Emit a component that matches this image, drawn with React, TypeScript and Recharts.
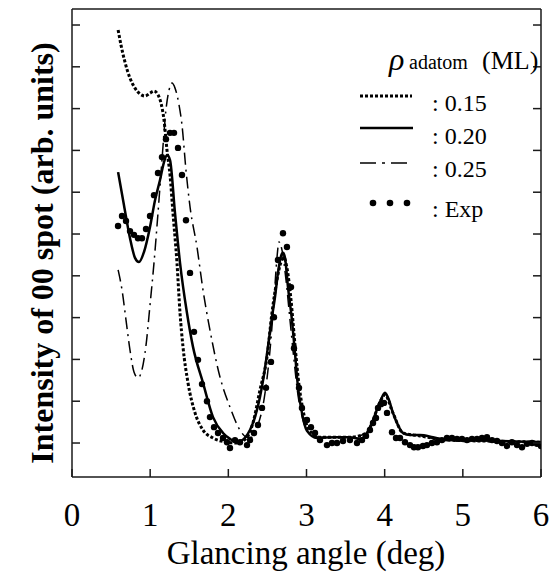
import React from 'react';
import { ComposedChart, Line, Scatter, XAxis, YAxis, Legend } from 'recharts';

const FONT = '"Liberation Serif", "Times New Roman", serif';

const xTicks = [0, 1, 2, 3, 4, 5, 6];
const yTicks = [0, 1, 2, 3, 4, 5, 6, 7, 8, 9, 10];
const xTitle = 'Glancing angle (deg)';
const yTitle = 'Intensity of 00 spot (arb. units)';
const legendLabels = [': 0.15', ': 0.20', ': 0.25', ': Exp'];

const sim015: [number, number][] = [
  [0.59, 9.88], [0.627, 9.52], [0.678, 9.11], [0.742, 8.73], [0.806, 8.49], [0.87, 8.35],
  [0.934, 8.3], [0.998, 8.37], [1.049, 8.42], [1.1, 8.33], [1.139, 8.13], [1.177, 7.73],
  [1.215, 7.01], [1.254, 6.41], [1.292, 5.5], [1.343, 4.31], [1.382, 3.11], [1.42, 2.3],
  [1.484, 1.44], [1.574, 0.72], [1.676, 0.31], [1.804, 0.12], [1.983, 0.02], [2.111, 0.0],
  [2.239, 0.14], [2.315, 0.48], [2.405, 1.27], [2.495, 2.06], [2.558, 3.11], [2.622, 3.9],
  [2.674, 4.33], [2.712, 4.43], [2.75, 4.19], [2.802, 3.42], [2.853, 2.34], [2.904, 1.39],
  [2.955, 0.79], [3.032, 0.31], [3.173, 0.14], [3.556, 0.14], [3.774, 0.24], [3.851, 0.55],
  [3.94, 0.98], [4.004, 1.15], [4.106, 0.72], [4.234, 0.24], [4.452, 0.17], [4.797, 0.07],
  [5.5, 0.04], [6.0, 0.02],
];

const sim020: [number, number][] = [
  [0.59, 6.48], [0.665, 5.69], [0.742, 4.9], [0.806, 4.43], [0.857, 4.33], [0.921, 4.57],
  [0.998, 5.17], [1.062, 5.81], [1.126, 6.29], [1.177, 6.72], [1.215, 6.89], [1.254, 6.77],
  [1.318, 5.5], [1.382, 4.31], [1.471, 3.11], [1.548, 2.3], [1.676, 1.44], [1.804, 0.62],
  [1.932, 0.24], [2.021, 0.1], [2.111, 0.02], [2.2, 0.1], [2.277, 0.31], [2.341, 0.62],
  [2.405, 1.1], [2.456, 1.63], [2.507, 2.3], [2.558, 3.01], [2.597, 3.49], [2.635, 4.07],
  [2.674, 4.47], [2.699, 4.55], [2.725, 4.43], [2.763, 3.73], [2.814, 2.94], [2.853, 2.15],
  [2.891, 1.34], [2.942, 0.72], [3.006, 0.29], [3.134, 0.12], [3.364, 0.14], [3.556, 0.14],
  [3.684, 0.1], [3.774, 0.24], [3.851, 0.55], [3.94, 0.98], [4.004, 1.2], [4.055, 1.03],
  [4.106, 0.72], [4.17, 0.43], [4.234, 0.24], [4.324, 0.19], [4.452, 0.19], [4.618, 0.14],
  [4.797, 0.07], [5.091, 0.07], [5.475, 0.05], [6.0, 0.02],
];

const sim025: [number, number][] = [
  [0.59, 4.14], [0.64, 3.66], [0.691, 2.94], [0.742, 2.22], [0.793, 1.7], [0.844, 1.56],
  [0.895, 1.75], [0.947, 2.34], [0.998, 3.3], [1.049, 4.31], [1.1, 5.5], [1.151, 6.77],
  [1.202, 7.97], [1.241, 8.44], [1.279, 8.61], [1.318, 8.49], [1.369, 8.09], [1.407, 7.61],
  [1.458, 6.53], [1.51, 5.65], [1.599, 4.69], [1.676, 3.66], [1.765, 2.7], [1.893, 1.58],
  [2.021, 0.86], [2.149, 0.31], [2.239, 0.14], [2.303, 0.14], [2.379, 0.43], [2.456, 1.03],
  [2.533, 2.22], [2.584, 3.42], [2.622, 4.43], [2.648, 4.81], [2.686, 4.62], [2.738, 3.9],
  [2.789, 2.94], [2.84, 1.99], [2.891, 1.15], [2.955, 0.55], [3.032, 0.26], [3.173, 0.14],
  [3.556, 0.14], [3.774, 0.24], [3.851, 0.55], [3.94, 0.98], [4.004, 1.17], [4.106, 0.72],
  [4.234, 0.24], [4.452, 0.17], [4.797, 0.07], [5.5, 0.04], [6.0, 0.02],
];

const expData: [number, number][] = [
  [0.589, 5.19], [0.64, 5.43], [0.691, 5.31], [0.742, 5.07], [0.793, 4.98], [0.844, 4.9],
  [0.895, 4.9], [0.947, 5.12], [0.998, 5.43], [1.049, 5.93], [1.1, 6.46], [1.151, 6.84],
  [1.202, 7.27], [1.254, 7.42], [1.305, 7.42], [1.356, 7.06], [1.407, 6.41], [1.458, 5.33],
  [1.51, 4.07], [1.561, 2.66], [1.612, 1.99], [1.663, 1.41], [1.727, 1.0], [1.765, 0.62],
  [1.817, 0.38], [1.868, 0.24], [1.932, 0.12], [1.983, 0.02], [2.021, -0.12], [2.085, 0.07],
  [2.149, 0.02], [2.239, -0.05], [2.277, 0.07], [2.328, 0.24], [2.379, 0.43], [2.431, 0.84],
  [2.482, 1.32], [2.546, 1.94], [2.584, 3.01], [2.635, 4.38], [2.699, 5.02], [2.75, 4.69],
  [2.802, 3.73], [2.84, 2.27], [2.904, 1.32], [2.942, 0.84], [3.006, 0.55], [3.057, 0.38],
  [3.109, 0.24], [3.173, 0.07], [3.262, -0.05], [3.326, 0.0], [3.39, 0.0], [3.467, 0.05],
  [3.556, 0.07], [3.646, 0.0], [3.71, 0.07], [3.761, 0.17], [3.812, 0.31], [3.851, 0.48],
  [3.889, 0.6], [3.915, 0.84], [3.953, 0.93], [3.991, 0.96], [4.03, 0.72], [4.094, 0.26],
  [4.145, 0.12], [4.196, 0.12], [4.26, 0.02], [4.324, -0.05], [4.375, -0.1], [4.426, -0.1],
  [4.49, -0.07], [4.541, -0.05], [4.605, 0.0], [4.669, 0.02], [4.733, 0.07], [4.797, 0.12],
  [4.861, 0.12], [4.925, 0.1], [4.989, 0.1], [5.053, 0.07], [5.117, 0.1], [5.181, 0.1],
  [5.245, 0.12], [5.309, 0.14], [5.373, 0.07], [5.437, 0.05], [5.501, 0.0], [5.565, -0.07],
  [5.628, 0.02], [5.693, -0.05], [5.757, -0.1], [5.821, -0.02], [5.885, 0.0], [5.949, -0.02],
  [6.0, -0.07],
];

const toPts = (arr: [number, number][]) => arr.map(([x, y]) => ({ x, y }));

const AX = '#1a1a1a';

const XTick = (props: any) => {
  const { x, y, payload } = props;
  return (
    <g>
      <line x1={x} x2={x} y1={y} y2={y - 8} stroke={AX} strokeWidth={1.5} />
      <text x={x} y={y + 49} textAnchor="middle" fontSize={33} fontFamily={FONT} fill="#000">
        {payload.value}
      </text>
    </g>
  );
};

const LeftTick = (props: any) => {
  const { x, y } = props;
  return <line x1={x} x2={x + 8} y1={y} y2={y} stroke={AX} strokeWidth={1.5} />;
};

const RightTick = (props: any) => {
  const { x, y } = props;
  return <line x1={x} x2={x - 8} y1={y} y2={y} stroke={AX} strokeWidth={1.5} />;
};

const DotShape = (props: any) => <circle cx={props.cx} cy={props.cy} r={3.2} fill="#000" />;

const renderLegend = () => (
  <svg width={200} height={185} style={{ overflow: 'visible' }}>
    <text x={34} y={25} fontSize={32} fontStyle="italic" fontFamily={FONT}>ρ</text>
    <text x={54} y={24} fontSize={20} fontFamily={FONT}>adatom</text>
    <text x={127} y={24} fontSize={26} fontFamily={FONT}>(ML)</text>
    <line x1={5} x2={57} y1={51} y2={51} stroke="#000" strokeWidth={3} strokeDasharray="3 2" />
    <text x={77} y={66} fontSize={24} fontFamily={FONT}>{legendLabels[0]}</text>
    <line x1={5} x2={58} y1={83} y2={83} stroke="#000" strokeWidth={2.5} />
    <text x={77} y={99} fontSize={24} fontFamily={FONT}>{legendLabels[1]}</text>
    <line x1={5} x2={58} y1={118} y2={118} stroke="#000" strokeWidth={1.5} strokeDasharray="16 6 3 6" />
    <text x={77} y={132} fontSize={24} fontFamily={FONT}>{legendLabels[2]}</text>
    <circle cx={18} cy={158} r={3.3} fill="#000" />
    <circle cx={35} cy={158} r={3.3} fill="#000" />
    <circle cx={52} cy={158} r={3.3} fill="#000" />
    <text x={77} y={172} fontSize={24} fontFamily={FONT}>{legendLabels[3]}</text>
  </svg>
);

export default function App() {
  return (
    <div style={{ position: 'relative', width: 551, height: 565 }}>
      <ComposedChart
        width={551}
        height={565}
        margin={{ top: 0, left: 56, right: 10, bottom: 88 }}
      >
        <XAxis
          type="number"
          dataKey="x"
          domain={[0, 6]}
          ticks={xTicks}
          height={8}
          tickSize={0}
          tickMargin={0}
          tickLine={false}
          tick={<XTick />}
          axisLine={{ stroke: AX, strokeWidth: 1.5 }}
          allowDataOverflow
        />
        <XAxis
          xAxisId="top"
          orientation="top"
          type="number"
          dataKey="x"
          domain={[0, 6]}
          height={1}
          tick={false}
          tickLine={false}
          axisLine={{ stroke: AX, strokeWidth: 1.5 }}
        />
        <YAxis
          type="number"
          domain={[-0.813, 10.383]}
          ticks={yTicks}
          width={8}
          tickSize={0}
          tickMargin={0}
          tickLine={false}
          tick={<LeftTick />}
          axisLine={{ stroke: AX, strokeWidth: 1.5 }}
          allowDataOverflow
        />
        <YAxis
          yAxisId="r"
          orientation="right"
          type="number"
          domain={[-0.813, 10.383]}
          ticks={yTicks}
          width={8}
          tickSize={0}
          tickMargin={0}
          tickLine={false}
          tick={<RightTick />}
          axisLine={{ stroke: AX, strokeWidth: 1.5 }}
          allowDataOverflow
        />
        <Legend
          layout="horizontal"
          verticalAlign="middle"
          align="center"
          content={renderLegend}
          wrapperStyle={{ left: 347, top: 37, width: 200, height: 185 }}
        />
        <Line
          data={toPts(sim025)}
          dataKey="y"
          type="monotone"
          stroke="#000"
          strokeWidth={1.5}
          strokeDasharray="12 5 2 5"
          dot={false}
          isAnimationActive={false}
        />
        <Line
          data={toPts(sim015)}
          dataKey="y"
          type="monotone"
          stroke="#000"
          strokeWidth={3}
          strokeDasharray="3 2"
          dot={false}
          isAnimationActive={false}
        />
        <Line
          data={toPts(sim020)}
          dataKey="y"
          type="monotone"
          stroke="#000"
          strokeWidth={2.5}
          dot={false}
          isAnimationActive={false}
        />
        <Scatter
          data={toPts(expData)}
          dataKey="y"
          fill="#000"
          shape={<DotShape />}
          isAnimationActive={false}
        />
      </ComposedChart>
      <svg
        width={551}
        height={565}
        style={{ position: 'absolute', left: 0, top: 0, pointerEvents: 'none' }}
      >
        <text
          x={298}
          y={556}
          textAnchor="middle"
          fontSize={33}
          fontFamily={FONT}
          fill="#000"
        >
          {xTitle}
        </text>
        <text
          transform="translate(45, 245) rotate(-90)"
          textAnchor="middle"
          fontSize={32}
          fontWeight="bold"
          fontFamily={FONT}
          fill="#000"
        >
          {yTitle}
        </text>
      </svg>
    </div>
  );
}
